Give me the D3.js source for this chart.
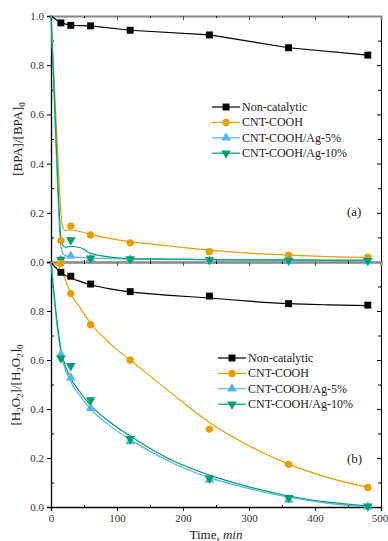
<!DOCTYPE html>
<html><head><meta charset="utf-8">
<script src="https://cdn.jsdelivr.net/npm/d3@7/dist/d3.min.js"></script>
<style>body{margin:0;background:#fff}svg{display:block}</style>
</head><body><svg id="c" width="388" height="541"></svg>
<script>
const series = ["Non-catalytic","CNT-COOH","CNT-COOH/Ag-5%","CNT-COOH/Ag-10%"];
const colors = ["#000000","#E69F00","#56B4E9","#009E73"];
const shapes = ["square","circle","triangle","triangleDown"];
const times = [15,30,60,120,240,360,480];
const xTicks = [0,100,200,300,400,500];
const yTicks = [0,0.2,0.4,0.6,0.8,1.0];

// Panel (a): BPA
const bpaData = [
  [0.972,0.962,0.960,0.942,0.923,0.871,0.841],
  [0.087,0.146,0.110,0.078,0.042,0.028,0.020],
  [0.008,0.024,0.012,0.010,0.005,0.003,0.002],
  [0.010,0.089,0.015,0.012,0.008,0.006,0.005]
];
const fitTimesA = [0,5,10,15,18,22,30,45,60,90,120,180,240,300,360,420,480];
const bpaFit = [
  null,
  [1.0,0.72,0.45,0.2,0.14,0.128,0.13,0.123,0.112,0.095,0.083,0.065,0.048,0.036,0.028,0.022,0.018],
  [1.0,0.65,0.3,0.06,0.035,0.026,0.021,0.018,0.016,0.014,0.012,0.010,0.009,0.008,0.007,0.006,0.006],
  [1.0,0.68,0.35,0.1,0.068,0.06,0.063,0.058,0.035,0.02,0.014,0.012,0.010,0.009,0.009,0.008,0.008]
];

// Panel (b): H2O2
const h2o2Data = [
  [0.958,0.942,0.910,0.879,0.861,0.830,0.824],
  [0.995,0.871,0.744,0.600,0.318,0.174,0.080],
  [0.623,0.528,0.403,0.267,0.110,0.029,0.001],
  [0.607,0.576,0.437,0.278,0.117,0.038,0.003]
];
const fitTimesB = [0,5,10,15,20,30,45,60,90,120,180,240,300,360,420,480];
const h2o2Fit = [
  [1.0,0.983,0.97,0.958,0.948,0.935,0.92,0.907,0.89,0.878,0.864,0.853,0.84,0.83,0.825,0.822],
  [1.0,0.995,0.985,0.965,0.94,0.87,0.81,0.75,0.665,0.6,0.47,0.345,0.25,0.175,0.12,0.08],
  [1.0,0.85,0.72,0.63,0.575,0.51,0.45,0.40,0.33,0.275,0.185,0.12,0.075,0.04,0.015,0.0],
  [1.0,0.86,0.74,0.645,0.59,0.525,0.465,0.415,0.345,0.29,0.195,0.13,0.082,0.045,0.02,0.004]
];

const FONT = "Liberation Serif";
const svg = d3.select("#c");
const x = d3.scaleLinear().domain([0,500]).range([51,381]);
const yA = d3.scaleLinear().domain([0,1]).range([262,16]);
const yB = d3.scaleLinear().domain([0,1]).range([507,262]);

function symbolPath(shape){
  const m = {square:[d3.symbolSquare,48], circle:[d3.symbolCircle,42], triangle:[d3.symbolTriangle,40], triangleDown:[d3.symbolTriangle,40]}[shape];
  return d3.symbol().type(m[0]).size(m[1])();
}
function drawMarker(g, shape, cx, cy, color){
  g.append("path").attr("d", symbolPath(shape))
   .attr("transform", `translate(${cx},${cy})` + (shape==="triangleDown" ? " rotate(180)" : ""))
   .attr("fill", color);
}

function axes(y, labelBottom, showZeroTop){
  const r0 = y.range();
  const g = svg.append("g");
  const left = d3.axisLeft(y).tickValues(yTicks.filter(v=> showZeroTop || v<1)).tickFormat(d3.format(".1f")).tickSize(4).tickPadding(3);
  const gl = g.append("g").attr("transform","translate(51,0)").call(left);
  gl.attr("font-family", FONT);
  gl.select(".domain").attr("stroke","#000").attr("stroke-width",1.3);
  gl.selectAll(".tick line").attr("stroke","#000");
  gl.selectAll("text").attr("font-size",11).attr("fill","#333");
  g.append("g").attr("transform","translate(51,0)").call(d3.axisRight(y).tickValues([0.1,0.3,0.5,0.7,0.9]).tickSize(3).tickFormat(""))
    .call(s=>s.select(".domain").remove());
  g.append("g").attr("transform","translate(381,0)").call(d3.axisLeft(y).tickValues([0.2,0.4,0.6,0.8]).tickSize(4).tickFormat(""))
    .call(s=>s.select(".domain").attr("stroke","#000").attr("stroke-width",1));
  g.append("g").attr("transform","translate(381,0)").call(d3.axisLeft(y).tickValues([0.1,0.3,0.5,0.7,0.9]).tickSize(3).tickFormat(""))
    .call(s=>s.select(".domain").remove());
  const gb = g.append("g").attr("transform",`translate(0,${r0[0]})`).call(d3.axisBottom(x).tickValues(xTicks).tickSize(4).tickPadding(3).tickFormat(labelBottom? d3.format("d") : ""));
  gb.attr("font-family", FONT);
  gb.select(".domain").attr("stroke","#000").attr("stroke-width",1.3);
  gb.selectAll("text").attr("font-size",11).attr("fill","#333");
  gb.selectAll("text").filter(d=>d===500).attr("dx",-1.5);
  g.append("g").attr("transform",`translate(0,${r0[0]})`).call(d3.axisTop(x).tickValues([50,150,250,350,450]).tickSize(2).tickFormat(""))
    .call(s=>s.select(".domain").remove());
  const gt = g.append("g").attr("transform",`translate(0,${r0[1]})`).call(d3.axisBottom(x).tickValues([100,200,300,400]).tickSize(4).tickFormat(""));
  gt.select(".domain").attr("stroke","#888").attr("stroke-width",2);
  gt.selectAll(".tick line").attr("stroke","#555");
  g.append("g").attr("transform",`translate(0,${r0[1]})`).call(d3.axisBottom(x).tickValues([50,150,250,350,450]).tickSize(2).tickFormat(""))
    .call(s=>s.select(".domain").remove());
}

function panel(y, data, fitT, fits, legendPos, tag, tagPos){
  const g = svg.append("g");
  series.forEach((s,i)=>{
    let pts;
    if (fits[i]) pts = fitT.map((t,k)=>[t,fits[i][k]]);
    else pts = [[0,1]].concat(times.map((t,k)=>[t,data[i][k]]));
    const curve = fits[i] ? d3.curveMonotoneX : d3.curveLinear;
    g.append("path").attr("d", d3.line().x(d=>x(d[0])).y(d=>y(d[1])).curve(curve)(pts))
      .attr("fill","none").attr("stroke",colors[i]).attr("stroke-width",1.2);
  });
  series.forEach((s,i)=>{
    times.forEach((t,k)=> drawMarker(g, shapes[i], x(t), y(data[i][k]), colors[i]));
  });
  const lg = svg.append("g").attr("transform",`translate(${legendPos[0]},${legendPos[1]})`);
  series.forEach((s,i)=>{
    const yy = i*15.4;
    lg.append("line").attr("x1",0).attr("x2",28).attr("y1",yy).attr("y2",yy).attr("stroke",colors[i]).attr("stroke-width",1.2);
    drawMarker(lg, shapes[i], 14, yy, colors[i]);
    lg.append("text").attr("x",30).attr("y",yy+4).attr("font-size",12).attr("font-family",FONT).attr("fill","#222").text(s);
  });
  svg.append("text").attr("x",tagPos[0]).attr("y",tagPos[1]).attr("font-size",13).attr("font-family",FONT).attr("fill","#222").text(tag);
}

axes(yA, false, true);
axes(yB, true, false);
panel(yA, bpaData, fitTimesA, bpaFit, [212,107], "(a)", [347,216]);
panel(yB, h2o2Data, fitTimesB, h2o2Fit, [218,358], "(b)", [347,463]);

const la = svg.append("text").attr("transform","translate(22,139) rotate(-90)").attr("text-anchor","middle").attr("font-size",13).attr("font-family",FONT).attr("fill","#222");
la.append("tspan").text("[BPA]/[BPA]");
la.append("tspan").attr("font-size",9).attr("dy",3).text("0");
const lb = svg.append("text").attr("transform","translate(20,385) rotate(-90)").attr("text-anchor","middle").attr("font-size",13).attr("font-family",FONT).attr("fill","#222");
lb.append("tspan").text("[H");
lb.append("tspan").attr("font-size",9).attr("dy",3).text("2");
lb.append("tspan").attr("dy",-3).text("O");
lb.append("tspan").attr("font-size",9).attr("dy",3).text("2");
lb.append("tspan").attr("dy",-3).text("]/[H");
lb.append("tspan").attr("font-size",9).attr("dy",3).text("2");
lb.append("tspan").attr("dy",-3).text("O");
lb.append("tspan").attr("font-size",9).attr("dy",3).text("2");
lb.append("tspan").attr("dy",-3).text("]");
lb.append("tspan").attr("font-size",9).attr("dy",3).text("0");
const xl = svg.append("text").attr("x",216).attr("y",539).attr("text-anchor","middle").attr("font-size",13).attr("font-family",FONT).attr("fill","#222");
xl.append("tspan").text("Time, ");
xl.append("tspan").attr("font-style","italic").text("min");
</script></body></html>
